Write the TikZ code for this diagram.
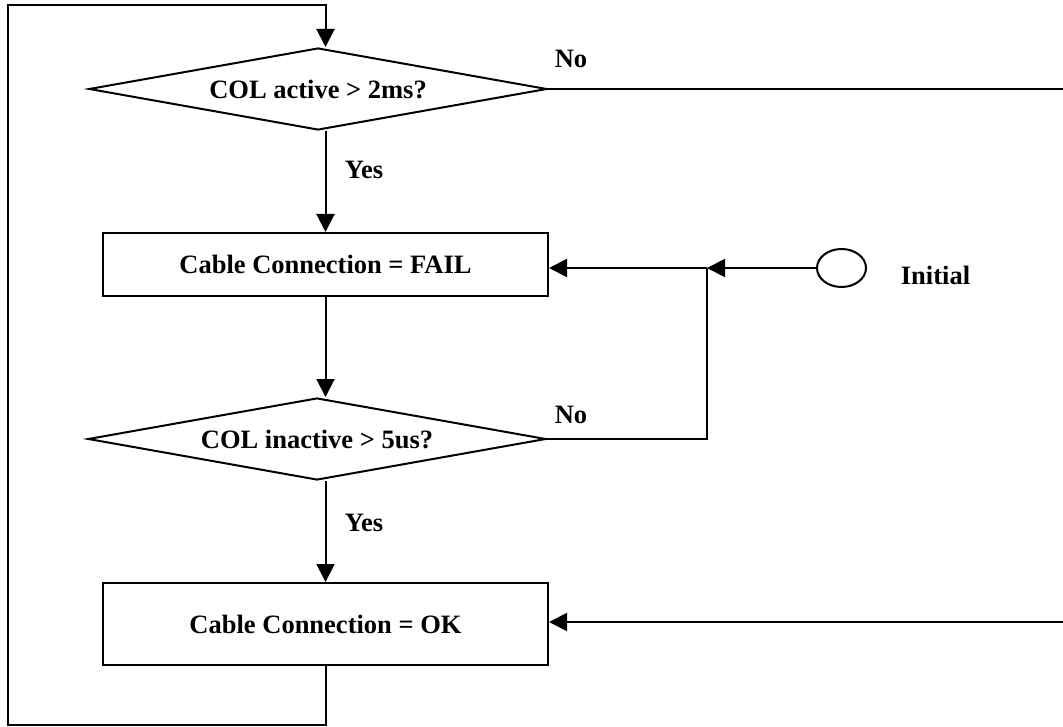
\documentclass[tikz,border=0pt]{standalone}
\usepackage{fontspec}
\setmainfont{Liberation Serif}
\usetikzlibrary{shapes.geometric,arrows.meta,calc}
\begin{document}
\begin{tikzpicture}[x=1pt,y=-1pt,
  line width=2pt,
  every node/.style={font=\fontsize{26.5}{30}\selectfont\bfseries},
  proc/.style={draw, rectangle, minimum width=445pt, inner sep=0pt},
  dec/.style={draw, diamond, aspect=5.6, inner sep=0pt, minimum width=458pt, minimum height=82pt},
  arr/.style={-{Triangle[length=18pt,width=18pt]}},
  lbl/.style={inner sep=0pt}]
\useasboundingbox (0,0) rectangle (1063,727);
\node[dec] (d1) at (318,89) {COL active > 2ms?};
\node[proc, minimum height=63pt] (b1) at (325.5,264.5) {Cable Connection = FAIL};
\node[dec] (d2) at (317,439) {COL inactive > 5us?};
\node[proc, minimum height=82pt] (b2) at (325.5,624) {Cable Connection = OK};
\node[draw, ellipse, minimum width=49pt, minimum height=38pt, inner sep=0pt] (init) at (841.5,268) {};
\node[lbl] (initl) at (935.5,275) {Initial};
\node[lbl] (no1) at (571,59) {No};
\node[lbl] (yes1) at (364,170) {Yes};
\node[lbl] (no2) at (571,415) {No};
\node[lbl] (yes2) at (364,523) {Yes};
\coordinate (J) at (707,268);
\coordinate (RX) at (1063,0);
\coordinate (R2) at (1063,622);
\coordinate (LB) at (8,725);
\coordinate (LT) at (8,5);
\draw[arr] (d1.south -| b1.north) -- (b1.north);
\draw[arr] (b1.south) -- (b1.south |- d2.north);
\draw[arr] (d2.south -| b2.north) -- (b2.north);
\draw[arr] (b2.south) -- (b2.south |- LB) -- (LB) -- (LT) -- (LT -| b2.south) -- (d1.north -| b2.south);
\draw (d1.east) -- (d1.east -| RX);
\draw[arr] (R2) -- (R2 -| b2.east);
\draw[arr] (init.west) -- (J);
\draw[arr] (J) -- (J -| b1.east);
\draw (d2.east) -- (d2.east -| J) -- (J);
\end{tikzpicture}
\end{document}
